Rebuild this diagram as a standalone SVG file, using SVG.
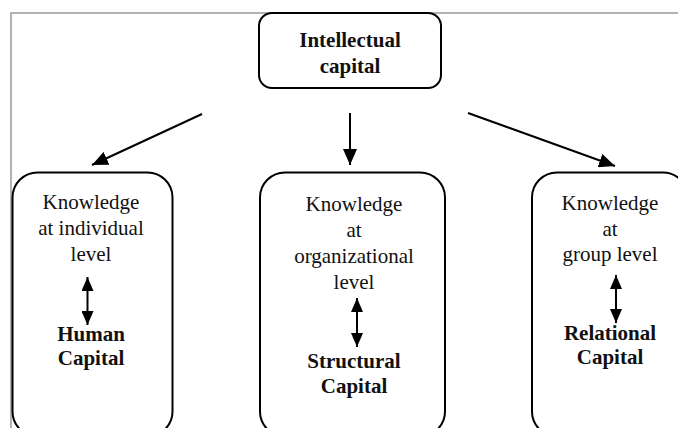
<svg xmlns="http://www.w3.org/2000/svg" width="678" height="428" viewBox="0 0 678 428">
  <defs>
    <marker id="head" viewBox="0 0 16 14" markerWidth="16" markerHeight="14" refX="16" refY="7" orient="auto" markerUnits="userSpaceOnUse">
      <path d="M0,0 L16,7 L0,14 Z" fill="#000"/>
    </marker>
    <marker id="headSmall" viewBox="0 0 14 12" markerWidth="14" markerHeight="12" refX="14" refY="6" orient="auto-start-reverse" markerUnits="userSpaceOnUse">
      <path d="M0,0 L14,6 L0,12 Z" fill="#000"/>
    </marker>
    <style>
      .frame { fill: none; stroke: #9a9a9a; stroke-width: 1.5; }
      .box { fill: #fff; stroke: #000; stroke-width: 2; }
      .t { font-family: "Liberation Serif", "Times New Roman", serif; font-size: 21px; fill: #111; text-anchor: middle; }
      .b { font-weight: bold; }
      .link { fill: none; stroke: #000; stroke-width: 2; }
      .pair { fill: none; stroke: #000; stroke-width: 2; marker-start: url(#headSmall); marker-end: url(#headSmall); }
    </style>
  </defs>

  <rect width="678" height="428" fill="#fff"/>

  <!-- outer frame (top and left edges) -->
  <path class="frame" d="M11,428 L11,13 L678,13"/>

  <g id="intellectual-capital">
    <rect class="box" x="259" y="13" width="182" height="75" rx="13"/>
    <text class="t b" x="350" y="47">Intellectual</text>
    <text class="t b" x="350" y="73">capital</text>
  </g>

  <g id="human-capital">
    <rect class="box" x="12.5" y="172.5" width="160" height="264" rx="25"/>
    <text class="t" x="91" y="209">Knowledge</text>
    <text class="t" x="91" y="235">at individual</text>
    <text class="t" x="91" y="261">level</text>
    <line class="pair" x1="87.5" y1="277" x2="87.5" y2="325"/>
    <text class="t b" x="91" y="341">Human</text>
    <text class="t b" x="91" y="365">Capital</text>
  </g>

  <g id="structural-capital">
    <rect class="box" x="260" y="172.5" width="185" height="264" rx="25"/>
    <text class="t" x="354" y="211">Knowledge</text>
    <text class="t" x="354" y="237">at</text>
    <text class="t" x="354" y="263">organizational</text>
    <text class="t" x="354" y="289">level</text>
    <line class="pair" x1="357" y1="298" x2="357" y2="347"/>
    <text class="t b" x="354" y="368">Structural</text>
    <text class="t b" x="354" y="393">Capital</text>
  </g>

  <g id="relational-capital">
    <rect class="box" x="532" y="172.5" width="156" height="264" rx="25"/>
    <text class="t" x="610" y="210">Knowledge</text>
    <text class="t" x="610" y="236">at</text>
    <text class="t" x="610" y="261">group level</text>
    <line class="pair" x1="616" y1="275" x2="616" y2="323"/>
    <text class="t b" x="610" y="340">Relational</text>
    <text class="t b" x="610" y="364">Capital</text>
  </g>

  <g id="connectors">
    <line class="link" x1="202" y1="114" x2="92" y2="165" marker-end="url(#head)"/>
    <line class="link" x1="350" y1="113" x2="350" y2="165" marker-end="url(#head)"/>
    <line class="link" x1="468" y1="113" x2="615" y2="166" marker-end="url(#head)"/>
  </g>
</svg>
